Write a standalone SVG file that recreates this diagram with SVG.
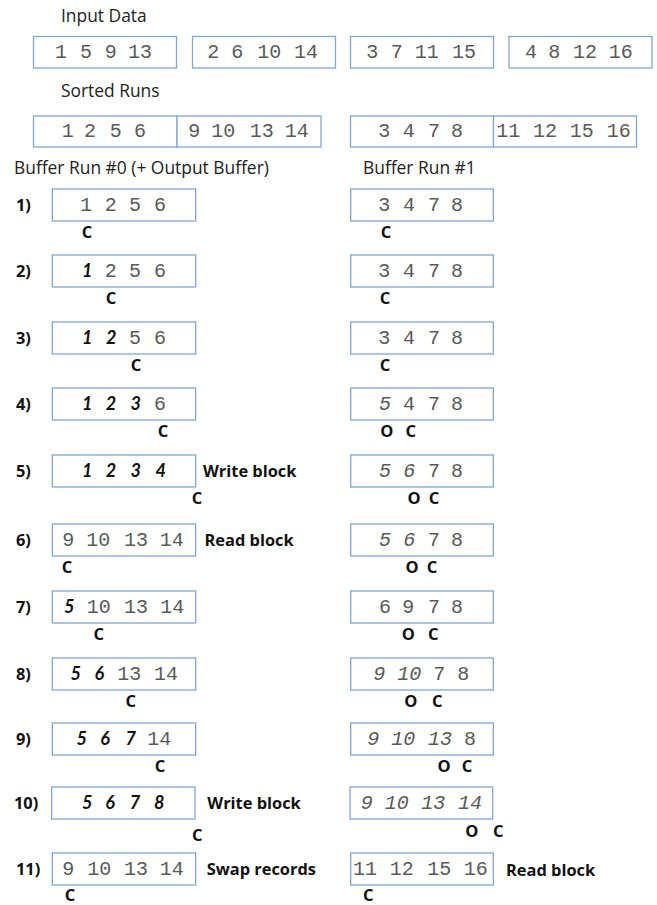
<svg xmlns="http://www.w3.org/2000/svg" width="657" height="905" viewBox="0 0 657 905">
<style>
.bx{fill:#fff;stroke:#7BA7DA;stroke-width:1.3}
.lbl{font-family:"Open Sans","Liberation Sans",sans-serif;font-size:17.4px;fill:#222}
.b{font-family:"Open Sans","Liberation Sans",sans-serif;font-size:16.4px;font-weight:bold;fill:#111}
.c{font-family:"Open Sans","Liberation Sans",sans-serif;font-size:16.5px;font-weight:bold;fill:#111;text-anchor:middle}
.d{font-family:"Liberation Mono",monospace;font-size:20px;fill:#5a5a5a;text-anchor:middle}
.di{font-family:"Liberation Mono",monospace;font-size:20px;font-style:italic;fill:#5a5a5a;text-anchor:middle}
.o{font-family:Lato,"Liberation Sans",sans-serif;font-size:18px;font-style:italic;font-weight:bold;fill:#111;text-anchor:middle}
</style>
<rect width="657" height="905" fill="#fff"/>
<g id="headers">
<text class="lbl" x="61" y="22">Input Data</text>
<text class="lbl" x="61" y="97">Sorted Runs</text>
<text class="lbl" x="14" y="174">Buffer Run #0 (+ Output Buffer)</text>
<text class="lbl" x="363" y="174">Buffer Run #1</text>
</g>
<g id="input">
<rect class="bx" x="33.5" y="36.5" width="143" height="31.5"/>
<rect class="bx" x="192.5" y="36.5" width="143" height="31.5"/>
<rect class="bx" x="350.5" y="36.5" width="143" height="31.5"/>
<rect class="bx" x="509" y="36.5" width="143" height="31.5"/>
<text class="d" y="57.5"><tspan x="61">1</tspan><tspan x="86">5</tspan><tspan x="110.7">9</tspan><tspan x="140">13</tspan></text>
<text class="d" y="57.5"><tspan x="213.3">2</tspan><tspan x="237.3">6</tspan><tspan x="269.3">10</tspan><tspan x="306">14</tspan></text>
<text class="d" y="57.5"><tspan x="372.3">3</tspan><tspan x="396.7">7</tspan><tspan x="426.7">11</tspan><tspan x="464">15</tspan></text>
<text class="d" y="57.5"><tspan x="531">4</tspan><tspan x="554.3">8</tspan><tspan x="585">12</tspan><tspan x="620.7">16</tspan></text>
</g>
<g id="sorted">
<rect class="bx" x="33.5" y="116" width="143.5" height="31"/>
<rect class="bx" x="177" y="116" width="144" height="31"/>
<rect class="bx" x="350.5" y="116" width="143" height="31"/>
<rect class="bx" x="493.5" y="116" width="143" height="31"/>
<text class="d" y="137"><tspan x="67.7">1</tspan><tspan x="90">2</tspan><tspan x="115.7">5</tspan><tspan x="140">6</tspan></text>
<text class="d" y="137"><tspan x="194.3">9</tspan><tspan x="223.3">10</tspan><tspan x="261.7">13</tspan><tspan x="296.7">14</tspan></text>
<text class="d" y="137"><tspan x="384.3">3</tspan><tspan x="408.7">4</tspan><tspan x="434">7</tspan><tspan x="457">8</tspan></text>
<text class="d" y="137"><tspan x="508.3">11</tspan><tspan x="545">12</tspan><tspan x="581.7">15</tspan><tspan x="618.7">16</tspan></text>
</g>
<g id="step1">
<text class="b" x="16" y="211">1)</text>
<rect class="bx" x="52.3" y="189" width="143.4" height="32"/>
<text class="d" y="211"><tspan x="86">1</tspan><tspan x="110.7">2</tspan><tspan x="135">5</tspan><tspan x="160">6</tspan></text>
<text class="c" x="87" y="238">C</text>
<rect class="bx" x="350.7" y="189" width="142.6" height="32"/>
<text class="d" y="211"><tspan x="384.3">3</tspan><tspan x="409">4</tspan><tspan x="434">7</tspan><tspan x="457">8</tspan></text>
<text class="c" x="386" y="238">C</text>
</g>
<g id="step2">
<text class="b" x="16" y="277">2)</text>
<rect class="bx" x="52.3" y="255" width="143.4" height="32"/>
<text class="o" x="87.3" y="277">1</text>
<text class="d" y="277"><tspan x="110.7">2</tspan><tspan x="135">5</tspan><tspan x="160">6</tspan></text>
<text class="c" x="111" y="304">C</text>
<rect class="bx" x="350.7" y="255" width="142.6" height="32"/>
<text class="d" y="277"><tspan x="384.3">3</tspan><tspan x="409">4</tspan><tspan x="434">7</tspan><tspan x="457">8</tspan></text>
<text class="c" x="385" y="304">C</text>
</g>
<g id="step3">
<text class="b" x="16" y="344">3)</text>
<rect class="bx" x="52.3" y="322" width="143.4" height="32"/>
<text class="o" y="344"><tspan x="87.3">1</tspan><tspan x="111.3">2</tspan></text>
<text class="d" y="344"><tspan x="135">5</tspan><tspan x="160">6</tspan></text>
<text class="c" x="136" y="371">C</text>
<rect class="bx" x="350.7" y="322" width="142.6" height="32"/>
<text class="d" y="344"><tspan x="384.3">3</tspan><tspan x="409">4</tspan><tspan x="434">7</tspan><tspan x="457">8</tspan></text>
<text class="c" x="385" y="371">C</text>
</g>
<g id="step4">
<text class="b" x="16" y="410">4)</text>
<rect class="bx" x="52.3" y="388" width="143.4" height="32"/>
<text class="o" y="410"><tspan x="87.3">1</tspan><tspan x="111">2</tspan><tspan x="135.7">3</tspan></text>
<text class="d" x="160" y="410">6</text>
<text class="c" x="163" y="437">C</text>
<rect class="bx" x="350.7" y="388" width="142.6" height="32"/>
<text class="di" x="385" y="410">5</text>
<text class="d" y="410"><tspan x="409">4</tspan><tspan x="434">7</tspan><tspan x="457">8</tspan></text>
<text class="c" y="437"><tspan x="386.7">O</tspan><tspan x="410.7">C</tspan></text>
</g>
<g id="step5">
<text class="b" x="16" y="477">5)</text>
<rect class="bx" x="52.3" y="455" width="143.4" height="32"/>
<text class="o" y="477"><tspan x="87.3">1</tspan><tspan x="111">2</tspan><tspan x="135.7">3</tspan><tspan x="160.7">4</tspan></text>
<text class="b" x="203" y="477">Write block</text>
<text class="c" x="197" y="504">C</text>
<rect class="bx" x="350.7" y="455" width="142.6" height="32"/>
<text class="di" y="477"><tspan x="385">5</tspan><tspan x="409.3">6</tspan></text>
<text class="d" y="477"><tspan x="434">7</tspan><tspan x="457">8</tspan></text>
<text class="c" y="504"><tspan x="414">O</tspan><tspan x="434">C</tspan></text>
</g>
<g id="step6">
<text class="b" x="16" y="546">6)</text>
<rect class="bx" x="52.3" y="524" width="143.4" height="32"/>
<text class="d" y="546"><tspan x="68.3">9</tspan><tspan x="98.3">10</tspan><tspan x="136">13</tspan><tspan x="171.7">14</tspan></text>
<text class="b" x="204.5" y="546">Read block</text>
<text class="c" x="67" y="573">C</text>
<rect class="bx" x="350.7" y="524" width="142.6" height="32"/>
<text class="di" y="546"><tspan x="385">5</tspan><tspan x="409.3">6</tspan></text>
<text class="d" y="546"><tspan x="434">7</tspan><tspan x="457">8</tspan></text>
<text class="c" y="573"><tspan x="412">O</tspan><tspan x="432">C</tspan></text>
</g>
<g id="step7">
<text class="b" x="16" y="613">7)</text>
<rect class="bx" x="52.3" y="591" width="143.4" height="32"/>
<text class="o" x="69.3" y="613">5</text>
<text class="d" y="613"><tspan x="98.7">10</tspan><tspan x="136">13</tspan><tspan x="172.3">14</tspan></text>
<text class="c" x="98.7" y="640">C</text>
<rect class="bx" x="350.7" y="591" width="142.6" height="32"/>
<text class="d" y="613"><tspan x="385">6</tspan><tspan x="408.3">9</tspan><tspan x="434">7</tspan><tspan x="457">8</tspan></text>
<text class="c" y="640"><tspan x="408.3">O</tspan><tspan x="433.3">C</tspan></text>
</g>
<g id="step8">
<text class="b" x="16" y="680">8)</text>
<rect class="bx" x="52.3" y="658" width="143.4" height="32"/>
<text class="o" y="680"><tspan x="75.7">5</tspan><tspan x="99.3">6</tspan></text>
<text class="d" y="680"><tspan x="129.3">13</tspan><tspan x="166">14</tspan></text>
<text class="c" x="130.7" y="707">C</text>
<rect class="bx" x="350.7" y="658" width="142.6" height="32"/>
<text class="di" y="680"><tspan x="379.3">9</tspan><tspan x="409.3">10</tspan></text>
<text class="d" y="680"><tspan x="439.3">7</tspan><tspan x="463.3">8</tspan></text>
<text class="c" y="707"><tspan x="410.7">O</tspan><tspan x="437.3">C</tspan></text>
</g>
<g id="step9">
<text class="b" x="16" y="745">9)</text>
<rect class="bx" x="52.3" y="723" width="143.4" height="32"/>
<text class="o" y="745"><tspan x="81.7">5</tspan><tspan x="105">6</tspan><tspan x="130.7">7</tspan></text>
<text class="d" x="159.3" y="745">14</text>
<text class="c" x="160" y="772">C</text>
<rect class="bx" x="350.7" y="723" width="142.6" height="32"/>
<text class="di" y="745"><tspan x="373.3">9</tspan><tspan x="403.3">10</tspan><tspan x="440">13</tspan></text>
<text class="d" x="470" y="745">8</text>
<text class="c" y="772"><tspan x="444">O</tspan><tspan x="467">C</tspan></text>
</g>
<g id="step10">
<text class="b" x="14" y="809">10)</text>
<rect class="bx" x="51.7" y="787" width="143.3" height="32"/>
<text class="o" y="809"><tspan x="87.3">5</tspan><tspan x="110">6</tspan><tspan x="135">7</tspan><tspan x="159.3">8</tspan></text>
<text class="b" x="207.3" y="809">Write block</text>
<text class="c" x="197.3" y="841">C</text>
<rect class="bx" x="350" y="787" width="142.7" height="32"/>
<text class="di" y="809"><tspan x="366.7">9</tspan><tspan x="396.7">10</tspan><tspan x="433.3">13</tspan><tspan x="470">14</tspan></text>
<text class="c" y="837"><tspan x="471.7">O</tspan><tspan x="498.3">C</tspan></text>
</g>
<g id="step11">
<text class="b" x="16" y="875">11)</text>
<rect class="bx" x="52.3" y="853" width="143.4" height="32"/>
<text class="d" y="875"><tspan x="68.3">9</tspan><tspan x="99.3">10</tspan><tspan x="136">13</tspan><tspan x="171.7">14</tspan></text>
<text class="b" x="206.7" y="875">Swap records</text>
<text class="c" x="70" y="901">C</text>
<rect class="bx" x="350.7" y="853" width="142.6" height="32"/>
<text class="d" y="875"><tspan x="365">11</tspan><tspan x="401.7">12</tspan><tspan x="439.3">15</tspan><tspan x="475.7">16</tspan></text>
<text class="b" x="506" y="876">Read block</text>
<text class="c" x="368.3" y="901">C</text>
</g>
<g id="connectors"></g>
</svg>
